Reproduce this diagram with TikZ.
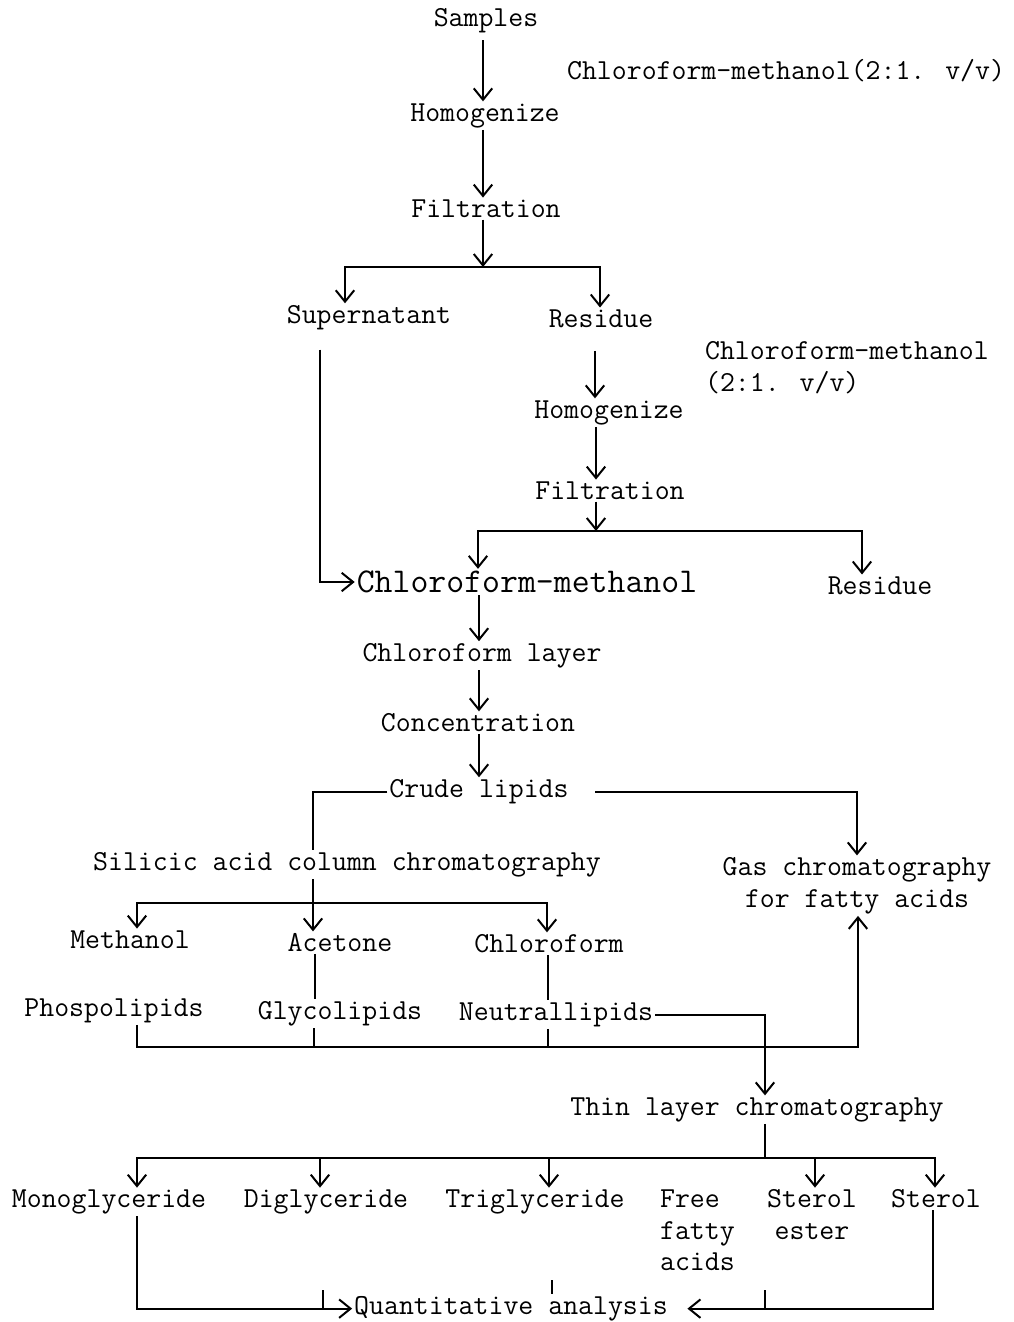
\documentclass[tikz,border=0pt]{standalone}
\usepackage{fontspec}
\usetikzlibrary{arrows.meta}
\tikzset{
	txt/.style={font=\ttfamily\fontsize{16.5}{18}\selectfont, inner sep=1pt, align=center, yshift=-1.5pt},
	bigtxt/.style={font=\ttfamily\fontsize{19.8}{22}\selectfont, inner sep=1pt},
	flow/.style={line width=0.4mm, -{Straight Barb[length=6.5pt,width=10.5pt]}},
	link/.style={line width=0.4mm},
}

\begin{document}
\begin{tikzpicture}[x=0.02cm, y=-0.02cm]
	%%%%% START %%%%%
	\useasboundingbox (0,0) rectangle (1014,1322);
	
	% first extraction
	\node[txt] (samp) at (486,18) {Samples};
	\node[txt, anchor=west] (solvA) at (565,68) {Chloroform-methanol(2:1. v/v)};
	\node[txt] (homA) at (485,113) {Homogenize};
	\node[txt] (filtA) at (486,206) {Filtration};
	\node[txt] (super) at (369,315) {Supernatant};
	\node[txt] (resA) at (601,316) {Residue};
	
	% second extraction
	\node[txt, anchor=west, align=left] (solvB) at (703,365) {Chloroform-methanol\\(2:1. v/v)};
	\node[txt] (homB) at (609,410) {Homogenize};
	\node[txt] (filtB) at (610,488) {Filtration};
	\node[bigtxt] (cm) at (527,582) {Chloroform-methanol};
	\node[txt] (resB) at (880,583) {Residue};
	
	\node[txt] (clayer) at (482,653) {Chloroform layer};
	\node[txt] (conc) at (478,720) {Concentration};
	\node[txt] (crude) at (479,789) {Crude lipids};
	
	% column and gas chromatography
	\node[txt] (silic) at (347,862) {Silicic acid column chromatography};
	\node[txt] (gas) at (857,883) {Gas chromatography\\for fatty acids};
	\node[txt] (meth) at (130,937) {Methanol};
	\node[txt] (acet) at (340,940) {Acetone};
	\node[txt] (chlf) at (549,941) {Chloroform};
	\node[txt] (phos) at (114,1008) {Phospolipids};
	\node[txt] (glyc) at (340,1011) {Glycolipids};
	\node[txt] (neut) at (556,1012) {Neutrallipids};
	
	% thin layer chromatography
	\node[txt] (tlc) at (757,1107) {Thin layer chromatography};
	\node[txt, anchor=north] (mono) at (109,1185) {Monoglyceride};
	\node[txt, anchor=north] (digl) at (326,1185) {Diglyceride};
	\node[txt, anchor=north] (trig) at (535,1185) {Triglyceride};
	\node[txt, anchor=north west, align=left] (ffa) at (658,1185) {Free\\fatty\\acids};
	\node[txt, anchor=north] (stest) at (812,1185) {Sterol\\ester};
	\node[txt, anchor=north] (sterol) at (936,1185) {Sterol};
	\node[txt] (quant) at (511,1306) {Quantitative analysis};
	
	% junctions
	\coordinate (jA) at (483,267);
	\coordinate (jB) at (596,531);
	\coordinate (jC) at (313,903);
	\coordinate (jD) at (858,1047);
	\coordinate (jE) at (765,1158);
	
	\draw[flow, shorten <=3pt] (483,0 |- samp.south) -- (483,0 |- homA.north);
	\draw[flow] (483,0 |- homA.south) -- (483,0 |- filtA.north);
	\draw[flow] (483,0 |- filtA.south) -- (jA);
	\draw[flow] (jA) -| (345,0 |- super.north);
	\draw[flow] (jA) -| (600,0 |- resA.north);
	
	\draw[flow, shorten <=12pt] (595,0 |- resA.south) -- (595,0 |- homB.north);
	\draw[flow] (596,0 |- homB.south) -- (596,0 |- filtB.north);
	\draw[flow] (596,0 |- filtB.south) -- (jB);
	\draw[flow] (jB) -| (478,0 |- cm.north);
	\draw[flow] (jB) -| (862,0 |- resB.north);
	\draw[flow, shorten <=10pt] (320,0 |- super.south) |- (cm.west);
	
	\draw[flow] (479,0 |- cm.south) -- (479,0 |- clayer.north);
	\draw[flow] (479,0 |- clayer.south) -- (479,0 |- conc.north);
	\draw[flow] (479,0 |- conc.south) -- (479,0 |- crude.north);
	
	\draw[link] (crude.west) -| (313,0 |- silic.north);
	\draw[flow, shorten <=14pt] (crude.east) -| (gas.north);
	\draw[flow] (313,0 |- silic.south) -- (313,0 |- acet.north);
	\draw[flow] (jC) -| (137,0 |- meth.north);
	\draw[flow] (jC) -| (547,0 |- chlf.north);
	
	\draw[link] (315,0 |- acet.south) -- (315,0 |- glyc.north);
	\draw[link] (548,0 |- chlf.south) -- (548,0 |- neut.north);
	\draw[flow] (137,0 |- phos.south) |- (jD) -- (858,0 |- gas.south);
	\draw[link] (314,0 |- glyc.south) -- (314,0 |- jD);
	\draw[link] (548,0 |- neut.south) -- (548,0 |- jD);
	\draw[flow] (neut.east) -| (765,0 |- tlc.north);
	
	\draw[link] (765,0 |- tlc.south) -- (jE);
	\draw[flow] (jE) -| (137,0 |- mono.north);
	\draw[flow] (jE) -| (935,0 |- sterol.north);
	\draw[flow] (320,0 |- jE) -- (320,0 |- digl.north);
	\draw[flow] (549,0 |- jE) -- (549,0 |- trig.north);
	\draw[flow] (815,0 |- jE) -- (815,0 |- stest.north);
	
	\draw[flow] (137,0 |- mono.south) |- (quant.west);
	\draw[flow, shorten >=10pt] (933,0 |- sterol.south) |- (quant.east);
	\draw[link] (323,1290) -- (323,0 |- quant.west);
	\draw[link] (765,1290) -- (765,0 |- quant.east);
	\draw[link] (552,1280) -- (552,1294);
	
	%%%%% END %%%%%
\end{tikzpicture}
\end{document}
